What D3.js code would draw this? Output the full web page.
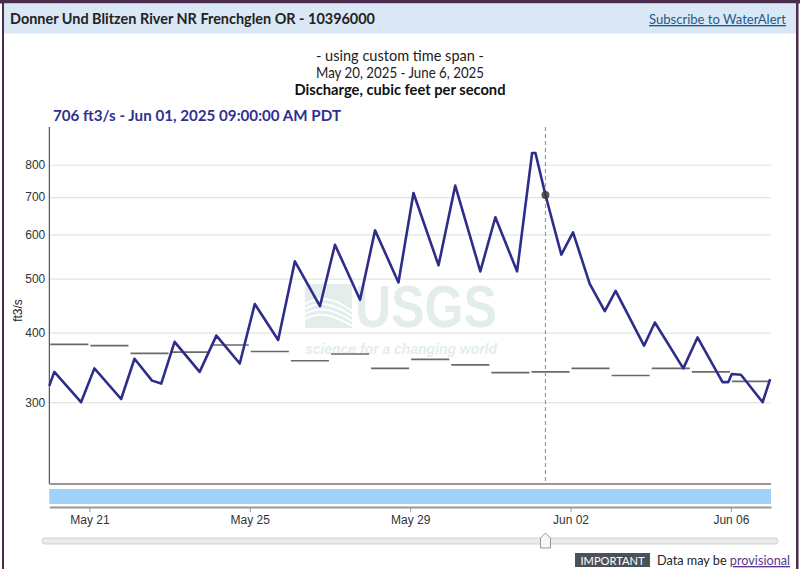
<!DOCTYPE html>
<html>
<head>
<meta charset="utf-8">
<script src="https://cdn.jsdelivr.net/npm/d3@7"></script>
<style>
body { margin: 0; background: #fff; }
svg { display: block; }
</style>
</head>
<body>
<svg id="chart"></svg>
<script>
// discharge readings (extrema of each daily cycle)
const flowTimes = [
    "2025-05-20 00:00", "2025-05-20 03:00", "2025-05-20 19:00",
    "2025-05-21 03:00", "2025-05-21 19:00",
    "2025-05-22 03:00", "2025-05-22 13:30", "2025-05-22 19:00",
    "2025-05-23 03:00", "2025-05-23 18:00",
    "2025-05-24 04:00", "2025-05-24 18:00",
    "2025-05-25 03:00", "2025-05-25 17:00",
    "2025-05-26 03:00", "2025-05-26 18:00",
    "2025-05-27 03:00", "2025-05-27 18:00",
    "2025-05-28 03:00", "2025-05-28 17:00",
    "2025-05-29 02:00", "2025-05-29 17:00",
    "2025-05-30 03:00", "2025-05-30 18:00",
    "2025-05-31 03:00", "2025-05-31 16:00",
    "2025-06-01 01:00", "2025-06-01 03:00", "2025-06-01 09:00", "2025-06-01 18:30",
    "2025-06-02 01:30", "2025-06-02 11:30", "2025-06-02 20:30",
    "2025-06-03 03:00", "2025-06-03 20:00",
    "2025-06-04 02:30", "2025-06-04 19:30",
    "2025-06-05 04:00", "2025-06-05 19:00", "2025-06-05 22:30",
    "2025-06-06 00:30", "2025-06-06 06:00", "2025-06-06 19:00", "2025-06-06 23:30"
];
const flowValues = [
    321, 340, 300,
    345, 304,
    359, 328, 324,
    385, 340,
    395, 352,
    450, 388,
    537, 446,
    575, 458,
    610, 492,
    712, 528,
    734, 515,
    644, 515,
    840, 840, 706, 552,
    605, 489, 437,
    475, 379,
    417, 345,
    392, 326, 326,
    337, 336, 300, 330
];

// daily statistic (gray steps)
const statDays = [
    "2025-05-20", "2025-05-21", "2025-05-22", "2025-05-23", "2025-05-24", "2025-05-25",
    "2025-05-26", "2025-05-27", "2025-05-28", "2025-05-29", "2025-05-30", "2025-05-31",
    "2025-06-01", "2025-06-02", "2025-06-03", "2025-06-04", "2025-06-05", "2025-06-06"
];
const statValues = [381, 379, 367, 369, 380, 370, 356, 366, 345, 358, 350, 339, 340, 345, 335, 345, 340, 327];

const yTicks = [300, 400, 500, 600, 700, 800];
const xTicks = ["2025-05-21", "2025-05-25", "2025-05-29", "2025-06-02", "2025-06-06"];

const cursorTime = "2025-06-01 09:00";
const cursorValue = 706;

const siteTitle = "Donner Und Blitzen River NR Frenchglen OR - 10396000";
const subTitles = ["- using custom time span -", "May 20, 2025 - June 6, 2025"];
const paramTitle = "Discharge, cubic feet per second";

const parseTime = d3.timeParse("%Y-%m-%d %H:%M");
const parseDay = d3.timeParse("%Y-%m-%d");

const W = 800, H = 569;
const plot = {left: 49.3, right: 771, top: 127, bottom: 484};
const uiFont = "Lato, 'Open Sans', sans-serif";
const axisFont = "'Liberation Sans', Arial, sans-serif";

const svg = d3.select("#chart")
    .attr("width", W)
    .attr("height", H);

// page frame + header band
svg.append("rect").attr("x", 0).attr("y", 0).attr("width", W).attr("height", 3.5).attr("fill", "#4b2c4d");
svg.append("rect").attr("x", 2).attr("y", 0).attr("width", 2).attr("height", H).attr("fill", "#4b2c4d");
svg.append("rect").attr("x", 796).attr("y", 0).attr("width", 2.5).attr("height", H).attr("fill", "#4b2c4d");
svg.append("rect").attr("x", 4).attr("y", 3.5).attr("width", 792).attr("height", 30).attr("fill", "#dae7f5");

svg.append("text")
    .text(siteTitle)
    .attr("x", 10).attr("y", 24)
    .attr("font-family", uiFont)
    .attr("font-weight", "bold")
    .attr("font-size", "15px")
    .attr("textLength", 365)
    .attr("lengthAdjust", "spacingAndGlyphs")
    .attr("fill", "#222");

svg.append("text")
    .text("Subscribe to WaterAlert")
    .attr("x", 649).attr("y", 24)
    .attr("font-family", uiFont)
    .attr("font-size", "13.5px")
    .attr("textLength", 137)
    .attr("lengthAdjust", "spacingAndGlyphs")
    .attr("text-decoration", "underline")
    .attr("fill", "#1d5a8e");

// titles
svg.selectAll("text.sub")
    .data(subTitles)
    .enter()
    .append("text")
    .attr("class", "sub")
    .text(d => d)
    .attr("x", 400)
    .attr("y", (d, i) => 61 + i * 17)
    .attr("text-anchor", "middle")
    .attr("font-family", uiFont)
    .attr("font-size", "15px")
    .attr("textLength", 168)
    .attr("lengthAdjust", "spacingAndGlyphs")
    .attr("fill", "#222");

svg.append("text")
    .text(paramTitle)
    .attr("x", 400).attr("y", 95)
    .attr("text-anchor", "middle")
    .attr("font-family", uiFont)
    .attr("font-weight", "bold")
    .attr("font-size", "15px")
    .attr("textLength", 211)
    .attr("lengthAdjust", "spacingAndGlyphs")
    .attr("fill", "#111");

svg.append("text")
    .text(`${cursorValue} ft3/s - Jun 01, 2025 09:00:00 AM PDT`)
    .attr("x", 53).attr("y", 121)
    .attr("font-family", uiFont)
    .attr("font-weight", "bold")
    .attr("font-size", "16px")
    .attr("textLength", 288)
    .attr("lengthAdjust", "spacingAndGlyphs")
    .attr("fill", "#2f3190");

// scales
const xscale = d3.scaleTime()
    .domain([parseDay("2025-05-20"), parseDay("2025-06-07")])
    .range([plot.left, plot.right]);

const yscale = d3.scaleLog()
    .domain([214, 935])
    .range([plot.bottom, plot.top]);

// watermark
const wm = svg.append("g").attr("fill", "#e3eeec");
wm.append("path")
    .attr("d", "M305,284 L352,284 L352,328 L305,328 Z");
wm.append("g")
    .attr("fill", "none")
    .attr("stroke", "#fff")
    .attr("stroke-width", 2)
    .selectAll("path")
    .data([0, 1, 2, 3])
    .enter()
    .append("path")
    .attr("d", d => `M305,${304 + d * 5} C318,${297 + d * 5} 330,${295 + d * 6} 352,${311 + d * 5}`);
wm.append("text")
    .text("USGS")
    .attr("transform", "translate(355,327) scale(1,1.2)")
    .attr("font-family", axisFont)
    .attr("font-weight", "bold")
    .attr("font-size", "50px")
    .attr("textLength", 142)
    .attr("lengthAdjust", "spacingAndGlyphs");
wm.append("text")
    .text("science for a changing world")
    .attr("x", 305).attr("y", 354)
    .attr("font-family", axisFont)
    .attr("font-weight", "bold")
    .attr("font-style", "italic")
    .attr("font-size", "14px")
    .attr("textLength", 192)
    .attr("lengthAdjust", "spacingAndGlyphs");

// gridlines
const grid = svg.append("g")
    .attr("transform", `translate(${plot.left},0)`)
    .call(d3.axisLeft(yscale).tickValues(yTicks).tickSize(-(plot.right - plot.left)).tickFormat(""));
grid.select(".domain").remove();
grid.selectAll("line").attr("stroke", "#e4e4e4").attr("stroke-width", 1.2);

// y axis
const yaxis_group = svg.append("g")
    .attr("transform", `translate(${plot.left},0)`)
    .call(d3.axisLeft(yscale).tickValues(yTicks).tickFormat(d3.format("d")).tickSize(0).tickPadding(4));
yaxis_group.select(".domain").attr("stroke", "#333").attr("d", `M0,${plot.top}V${plot.bottom}`);
yaxis_group.selectAll("text")
    .attr("font-family", axisFont)
    .attr("font-size", "12px")
    .attr("fill", "#333");

svg.append("text")
    .text("ft3/s")
    .attr("transform", `translate(22,${(plot.top + plot.bottom) / 2 + 5}) rotate(-90)`)
    .attr("text-anchor", "middle")
    .attr("font-family", axisFont)
    .attr("font-size", "12px")
    .attr("fill", "#222");

// plot bottom border
svg.append("line")
    .attr("x1", plot.left).attr("x2", plot.right)
    .attr("y1", plot.bottom).attr("y2", plot.bottom)
    .attr("stroke", "#999").attr("stroke-width", 2);

// daily statistic steps
svg.append("g")
    .selectAll("line")
    .data(statDays.map((d, i) => ({day: parseDay(d), value: statValues[i]})))
    .enter()
    .append("line")
    .attr("x1", d => xscale(d.day) + 1)
    .attr("x2", d => Math.min(xscale(d3.timeDay.offset(d.day, 1)) - 1, plot.right))
    .attr("y1", d => yscale(d.value))
    .attr("y2", d => yscale(d.value))
    .attr("stroke", "#6a6a6a")
    .attr("stroke-width", 1.6);

// cursor line
const cursorDate = parseTime(cursorTime);
svg.append("line")
    .attr("x1", xscale(cursorDate)).attr("x2", xscale(cursorDate))
    .attr("y1", plot.top).attr("y2", plot.bottom)
    .attr("stroke", "#999")
    .attr("stroke-width", 1.2)
    .attr("stroke-dasharray", "4,3");

// discharge line
const flowData = flowTimes.map((t, i) => ({date: parseTime(t), value: flowValues[i]}));
const line = d3.line()
    .x(d => xscale(d.date))
    .y(d => yscale(d.value));

svg.append("path")
    .datum(flowData)
    .attr("d", line)
    .attr("fill", "none")
    .attr("stroke", "#2e2d8a")
    .attr("stroke-width", 2.6)
    .attr("stroke-linejoin", "round");

svg.append("circle")
    .attr("cx", xscale(cursorDate))
    .attr("cy", yscale(cursorValue))
    .attr("r", 4)
    .attr("fill", "#3a3a3a")
    .attr("fill-opacity", 0.85);

// brush band
svg.append("rect")
    .attr("x", plot.left).attr("y", 489)
    .attr("width", plot.right - plot.left).attr("height", 15)
    .attr("fill", "#9fd1fb");

// x axis
const xaxis_group = svg.append("g")
    .attr("transform", "translate(0,507)")
    .call(d3.axisBottom(xscale)
        .tickValues(xTicks.map(parseDay))
        .tickFormat(d3.timeFormat("%b %d"))
        .tickSize(5)
        .tickSizeOuter(0)
        .tickPadding(3));
xaxis_group.select(".domain").attr("stroke", "#999").attr("stroke-width", 2);
xaxis_group.selectAll("line").attr("stroke", "#999");
xaxis_group.selectAll("text")
    .attr("font-family", axisFont)
    .attr("font-size", "12px")
    .attr("fill", "#333");

// slider
svg.append("rect")
    .attr("x", 42).attr("y", 538)
    .attr("width", 736).attr("height", 6)
    .attr("rx", 3)
    .attr("fill", "#ebebeb")
    .attr("stroke", "#cfcfcf");
const tx = xscale(cursorDate);
svg.append("path")
    .attr("d", `M${tx - 5},548 L${tx - 5},538 L${tx},533 L${tx + 5},538 L${tx + 5},548 Z`)
    .attr("fill", "#f7f7f7")
    .attr("stroke", "#999");

// provisional note
svg.append("rect")
    .attr("x", 575).attr("y", 553)
    .attr("width", 75).attr("height", 14)
    .attr("fill", "#4b5159");
svg.append("text")
    .text("IMPORTANT")
    .attr("x", 612.5).attr("y", 565)
    .attr("text-anchor", "middle")
    .attr("font-family", uiFont)
    .attr("font-size", "12px")
    .attr("textLength", 64)
    .attr("lengthAdjust", "spacingAndGlyphs")
    .attr("fill", "#fff");
const note = svg.append("text")
    .attr("x", 657).attr("y", 565)
    .attr("font-family", uiFont)
    .attr("font-size", "13.5px")
    .attr("textLength", 133)
    .attr("lengthAdjust", "spacingAndGlyphs")
    .attr("fill", "#222");
note.append("tspan").text("Data may be ");
note.append("tspan")
    .text("provisional")
    .attr("text-decoration", "underline")
    .attr("fill", "#5b3590");
</script>
</body>
</html>
